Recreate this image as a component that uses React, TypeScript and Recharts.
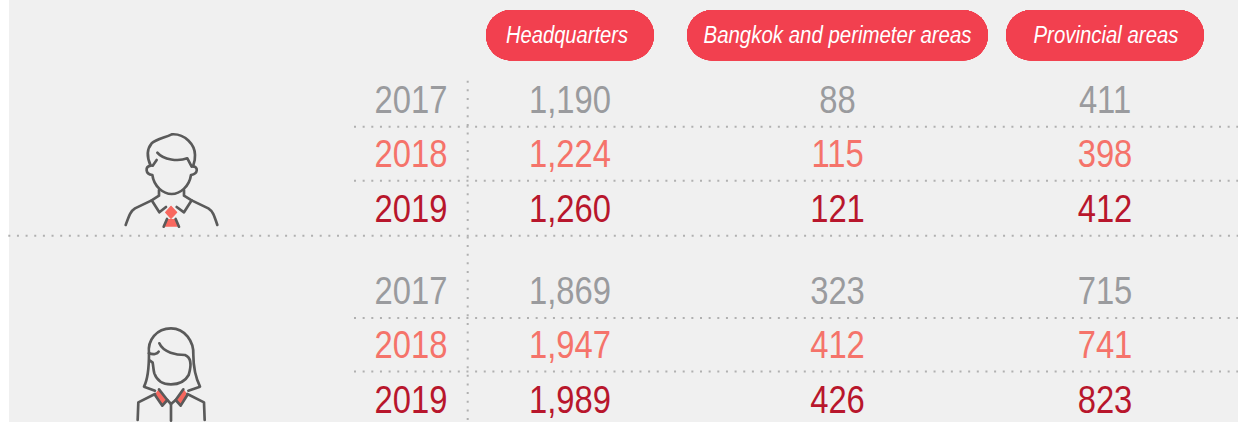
import React from "react";
import { ScatterChart, Scatter, XAxis, YAxis, ReferenceLine, Customized } from "recharts";

const regions = ["Headquarters", "Bangkok and perimeter areas", "Provincial areas"];
const years = ["2017", "2018", "2019"];
const male2017 = [1190, 88, 411];
const male2018 = [1224, 115, 398];
const male2019 = [1260, 121, 412];
const female2017 = [1869, 323, 715];
const female2018 = [1947, 412, 741];
const female2019 = [1989, 426, 823];

const rowTicks = [0, 1, 2, 3.5, 4.5, 5.5];
const rowYears = [...years, ...years];
const rowValues = [male2017, male2018, male2019, female2017, female2018, female2019];
const yearColors: Record<string, string> = { "2017": "#9a9b9e", "2018": "#f5736a", "2019": "#b8162c" };

const rowsFor = (year: string) =>
  rowTicks.flatMap((row, i) =>
    rowYears[i] === year
      ? regions.map((region, c) => ({ region, row, value: rowValues[i][c], label: rowValues[i][c].toLocaleString("en-US") }))
      : []
  );

const FONT = "'Liberation Sans', sans-serif";
const NUM_SIZE = 39.5;
const NUM_SX = 0.83;
const DOT = "#b0b0b0";
const DASH = "2 6.65";

const pillSizes: Record<string, { w: number; tw: number; cx: number }> = {
  Headquarters: { w: 168, tw: 122, cx: -3 },
  "Bangkok and perimeter areas": { w: 301, tw: 268, cx: 0 },
  "Provincial areas": { w: 198, tw: 145, cx: 1 },
};

const PillTick = (props: any) => {
  const name = props.payload.value as string;
  const s = pillSizes[name];
  return (
    <g>
      <rect x={props.x - s.w / 2} y={10} width={s.w} height={50.5} rx={25} ry={25} fill="#f2404f" />
      <text x={props.x + s.cx} y={43} textAnchor="middle" fontFamily={FONT} fontStyle="italic" fontSize={24.5} fill="#ffffff" textLength={s.tw} lengthAdjust="spacingAndGlyphs">
        {name}
      </text>
    </g>
  );
};

const YearTick = (props: any) => {
  const i = rowTicks.indexOf(props.payload.value);
  const year = rowYears[i];
  return (
    <text transform={`translate(${447.5},${props.y + 12.8}) scale(${NUM_SX},1)`} textAnchor="end" fontFamily={FONT} fontSize={NUM_SIZE} fill={yearColors[year]}>
      {year}
    </text>
  );
};

const Cell = (props: any) => (
  <text transform={`translate(${props.cx},${props.cy + 12.8}) scale(${NUM_SX},1)`} textAnchor="middle" fontFamily={FONT} fontSize={NUM_SIZE} fill={props.fillColor}>
    {props.payload.label}
  </text>
);

const dottedAcross = (x1: number) => (props: any) => (
  <line x1={x1} x2={1238} y1={props.y1} y2={props.y1} stroke={DOT} strokeWidth={2} strokeDasharray={DASH} />
);

const Z = 1 / 3;
const MaleIcon = () => (
  <g transform={`translate(110,125) scale(${Z})`} fill="none" stroke="#5a5a5a" strokeWidth={8} strokeLinecap="round" strokeLinejoin="round">
    <path d="M122 122 C112 100 108 75 125 55 C140 42 165 38 185 28 C225 25 255 60 255 90 C256 105 252 115 249 124" />
    <path d="M142 83 C160 105 205 110 232 100 L245 125" />
    <path d="M122 122 C105 125 105 147 127 150 C132 185 160 207 185 207 C210 207 238 185 243 150 C265 147 265 125 249 124" />
    <path d="M128 122 L140 105" />
    <path d="M147 195 L147 212 L125 226 L148 262 L168 246" />
    <path d="M222 195 L222 212 L245 226 L222 262 L200 246" />
    <path d="M125 226 L75 250 C62 258 58 270 47 300" />
    <path d="M245 226 L295 250 C308 258 312 270 322 300" />
    <path d="M183 244 L200 262 L183 280 L167 262 Z" fill="#f8685f" stroke="#f8685f" strokeWidth={4} />
    <path d="M172 282 L163 305 L206 305 L197 282 Z" fill="#f8685f" stroke="none" />
    <path d="M171 282 L161 305 M197 282 L207 305" />
  </g>
);
const FemaleIcon = () => (
  <g transform={`translate(110,320) scale(${Z})`} fill="none" stroke="#5a5a5a" strokeWidth={8} strokeLinecap="round" strokeLinejoin="round">
    <path d="M117 100 C112 60 140 25 183 25 C225 25 252 65 250 105 C250 140 258 175 270 200 L235 212" />
    <path d="M117 100 C117 140 115 175 102 200 L135 212" />
    <path d="M148 70 C160 98 200 105 225 105 C243 112 245 135 236 165 C225 185 205 193 183 193 C160 193 142 185 133 160 C130 150 130 138 128 128 L120 122" />
    <path d="M117 100 C130 105 142 102 146 95" />
    <path d="M147 206 L174 240 L157 259 L133 225 Z" fill="#f8685f" stroke="none" />
    <path d="M220 206 L195 240 L212 259 L234 225 Z" fill="#f8685f" stroke="none" />
    <path d="M147 208 L172 240 L157 257 L135 225" />
    <path d="M220 208 L197 240 L212 257 L232 225" />
    <path d="M172 240 L183 252 L197 240" />
    <path d="M183 252 L183 302" />
    <path d="M135 222 L85 247 L83 300" />
    <path d="M232 222 L282 247 L284 300" />
  </g>
);

const Icons = () => (
  <g>
    <MaleIcon />
    <FemaleIcon />
  </g>
);

export default function App() {
  return (
    <>
      <div style={{ position: "absolute", left: 9, top: 0, width: 1229, height: 422, background: "#f0f0f0" }} />
      <div style={{ position: "absolute", left: 0, top: 0, width: 1238, height: 422 }}>
        <ScatterChart width={1238} height={422} margin={{ top: 0, right: 0, bottom: 0, left: 0 }}>
          <XAxis
            xAxisId={0}
            dataKey="region"
            type="category"
            scale="point"
            orientation="top"
            allowDuplicatedCategory={false}
            height={80}
            padding={{ left: 102.3, right: 133 }}
            axisLine={false}
            tickLine={false}
            interval={0}
            tick={PillTick}
          />
          <YAxis
            yAxisId={0}
            dataKey="row"
            type="number"
            reversed
            width={467.7}
            domain={[-0.367, 5.908]}
            ticks={rowTicks}
            interval={0}
            allowDataOverflow
            tickLine={false}
            axisLine={{ stroke: DOT, strokeWidth: 2, strokeDasharray: DASH, strokeDashoffset: -0.7 }}
            tick={YearTick}
          />
          <ReferenceLine y={0.49} shape={dottedAcross(354)} ifOverflow="visible" />
          <ReferenceLine y={1.48} shape={dottedAcross(354)} ifOverflow="visible" />
          <ReferenceLine y={2.49} shape={dottedAcross(8.3)} ifOverflow="visible" />
          <ReferenceLine y={4} shape={dottedAcross(354)} ifOverflow="visible" />
          <ReferenceLine y={4.98} shape={dottedAcross(354)} ifOverflow="visible" />
          {years.map((y) => (
            <Scatter key={y} data={rowsFor(y)} isAnimationActive={false} shape={(p: any) => <Cell {...p} fillColor={yearColors[y]} />} />
          ))}
          <Customized component={Icons} />
        </ScatterChart>
      </div>
    </>
  );
}
